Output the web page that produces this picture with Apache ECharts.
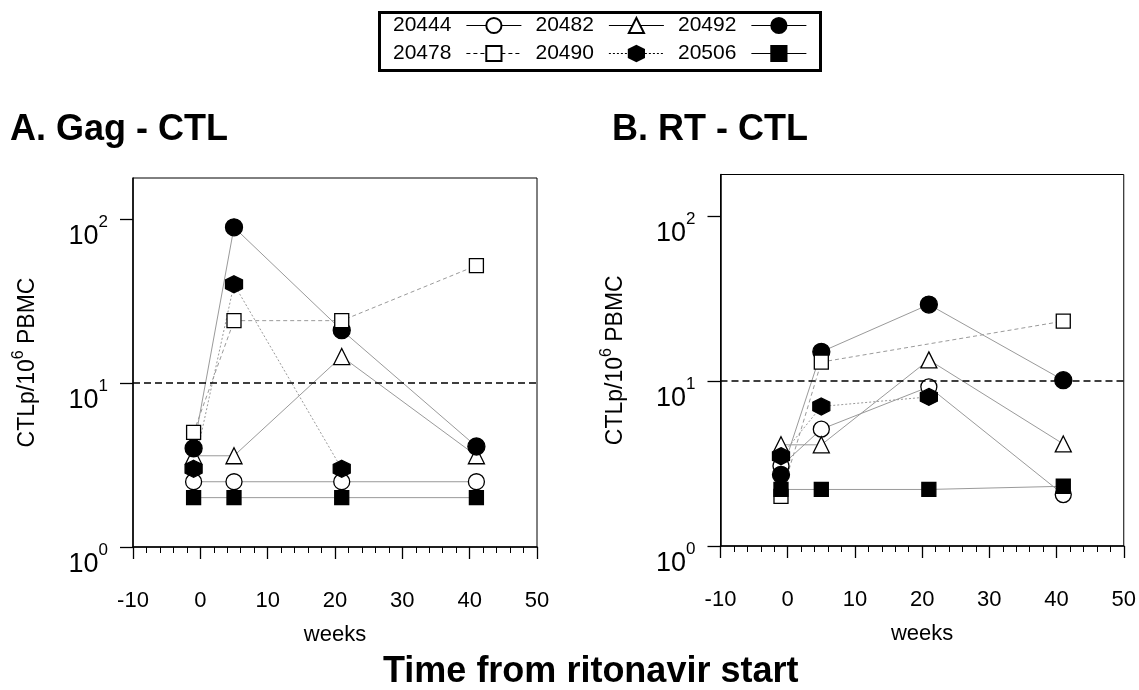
<!DOCTYPE html>
<html>
<head>
<meta charset="utf-8">
<script src="https://cdn.jsdelivr.net/npm/echarts@6/dist/echarts.min.js"></script>
<style>
html,body{margin:0;padding:0;background:#fff;}
#chart{width:1139px;height:690px;}
</style>
</head>
<body>
<div id="chart"></div>
<script>
// ---- data ----
const weeks = [-1, 5, 21, 41];
const seriesNames = ['20444', '20482', '20492', '20478', '20490', '20506'];
const legendRow1 = ['20444', '20482', '20492'];
const legendRow2 = ['20478', '20490', '20506'];
const xTicks = [-10, 0, 10, 20, 30, 40, 50];
const yTickValues = [1, 10, 100];
const thresholdValue = 10;

// A. Gag - CTL
const gag20444 = [2.5, 2.5, 2.5, 2.5];
const gag20482 = [3.6, 3.6, 14.5, 3.6];
const gag20492 = [4.0, 89, 21, 4.1];
const gag20478 = [5.0, 24, 24, 52];
const gag20490 = [3.0, 40, 3.0, null];
const gag20506 = [2.0, 2.0, 2.0, 2.0];

// B. RT - CTL
const rt20444 = [3.05, 5.1, 9.2, 2.05];
const rt20482 = [4.1, 4.1, 13.4, 4.15];
const rt20492 = [2.7, 15, 29, 10.1];
const rt20478 = [2.0, 13, null, 23];
const rt20490 = [3.5, 7.0, 8.0, null];
const rt20506 = [2.2, 2.2, 2.2, 2.3];

const gagSeries = [gag20444, gag20482, gag20492, gag20478, gag20490, gag20506];
const rtSeries = [rt20444, rt20482, rt20492, rt20478, rt20490, rt20506];

// ---- styles ----
const HEX = 'path://M0,-1 L0.866,-0.5 L0.866,0.5 L0,1 L-0.866,0.5 L-0.866,-0.5 Z';
const styleFor = {
  '20444': {symbol: 'circle', size: 16, fill: '#fff', dash: 'solid'},
  '20482': {symbol: 'triangle', size: 16, fill: '#fff', dash: 'solid'},
  '20492': {symbol: 'circle', size: 17, fill: '#000', dash: 'solid'},
  '20478': {symbol: 'rect', size: 14, fill: '#fff', dash: [4, 3]},
  '20490': {symbol: HEX, size: 17, fill: '#000', dash: [2, 2]},
  '20506': {symbol: 'rect', size: 14, fill: '#000', dash: 'solid'}
};
const FONT = '"Liberation Sans", Arial, sans-serif';
const YMAX = Math.pow(10, 2.25);

function makeSeries(name, values, gi) {
  const st = styleFor[name];
  return {
    name: name,
    type: 'line',
    xAxisIndex: gi,
    yAxisIndex: gi,
    data: weeks.map((w, i) => [w, values[i]]),
    connectNulls: true,
    symbol: st.symbol,
    symbolSize: st.size,
    showAllSymbol: true,
    lineStyle: {color: '#9a9a9a', width: 1, type: st.dash},
    itemStyle: {color: st.fill, borderColor: '#000', borderWidth: 1.3},
    emphasis: {disabled: true},
    z: 3
  };
}

function yLabelFmt(v) {
  const e = Math.log10(v);
  const r = Math.round(e);
  if (Math.abs(e - r) < 1e-6) return '{b|10}{s|' + r + '}';
  return '';
}

function xAxisFor(gi) {
  return {
    type: 'value', gridIndex: gi, min: -10, max: 50, interval: 10,
    axisLine: {show: true, onZero: false, lineStyle: {color: '#000', width: 1.5}},
    axisTick: {show: true, inside: false, length: 12, lineStyle: {color: '#000', width: 1.3}},
    minorTick: {show: true, splitNumber: 5, length: 6, lineStyle: {color: '#000', width: 1}},
    splitLine: {show: false},
    axisLabel: {color: '#000', fontSize: 22, fontFamily: FONT, margin: 43},
    name: 'weeks', nameLocation: 'middle', nameGap: 77,
    nameTextStyle: {color: '#000', fontSize: 22, fontFamily: FONT}
  };
}

function yAxisFor(gi) {
  return {
    type: 'log', logBase: 10, gridIndex: gi, min: 1, max: YMAX,
    axisLine: {show: true, onZero: false, lineStyle: {color: '#000', width: 1.5}},
    axisTick: {show: true, inside: false, length: 13, customValues: yTickValues, lineStyle: {color: '#000', width: 1.3}},
    splitLine: {show: false},
    axisLabel: {
      color: '#000', fontFamily: FONT, margin: 25, formatter: yLabelFmt,
      customValues: yTickValues,
      padding: [22, 0, 0, 0],
      rich: {
        b: {fontSize: 27, lineHeight: 40, fontFamily: FONT, color: '#000', verticalAlign: 'bottom'},
        s: {fontSize: 17, lineHeight: 17, fontFamily: FONT, color: '#000', verticalAlign: 'top', padding: [4, 0, 0, 0]}
      }
    },
    name: 'CTLp/10{s|6} PBMC', nameLocation: 'middle', nameGap: 88,
    nameTextStyle: {
      color: '#000', fontSize: 23, fontFamily: FONT, lineHeight: 34,
      rich: {s: {fontSize: 16, lineHeight: 16, fontFamily: FONT, color: '#000', verticalAlign: 'top'}}
    }
  };
}

const series = [];
seriesNames.forEach((n, i) => series.push(makeSeries(n, gagSeries[i], 0)));
seriesNames.forEach((n, i) => series.push(makeSeries(n, rtSeries[i], 1)));

const thresholdLine = (gi) => ({
  type: 'line', xAxisIndex: gi, yAxisIndex: gi, data: [], silent: true,
  markLine: {
    silent: true, symbol: 'none', label: {show: false},
    lineStyle: {color: '#000', type: [7, 4], width: 1.6},
    data: [{yAxis: thresholdValue}]
  }
});
series.push(thresholdLine(0));
series.push(thresholdLine(1));

function legendRow(names, top) {
  return {
    data: names, left: 393, top: top, orient: 'horizontal', align: 'right',
    padding: 0, itemGap: 13.6, itemWidth: 55, itemHeight: 19,
    selectedMode: false,
    textStyle: {color: '#000', fontSize: 21, fontFamily: FONT, padding: [0, 10, 0, 0]},
    lineStyle: {color: '#000', width: 1}
  };
}

const chart = echarts.init(document.getElementById('chart'), null, {renderer: 'canvas'});
chart.setOption({
  backgroundColor: '#fff',
  animation: false,
  title: [
    {text: 'A. Gag - CTL', left: 10, top: 112, padding: 0, textStyle: {fontSize: 36, fontWeight: 'bold', color: '#000', fontFamily: FONT}},
    {text: 'B. RT - CTL', left: 612, top: 112, padding: 0, textStyle: {fontSize: 36, fontWeight: 'bold', color: '#000', fontFamily: FONT}},
    {text: 'Time from ritonavir start', left: 383, top: 654, padding: 0, textStyle: {fontSize: 36, fontWeight: 'bold', color: '#000', fontFamily: FONT}}
  ],
  legend: [legendRow(legendRow1, 15), legendRow(legendRow2, 43)],
  graphic: [{
    type: 'rect', left: 377, top: 10, shape: {width: 441, height: 58},
    style: {fill: 'none', stroke: '#000', lineWidth: 3}, silent: true
  }],
  grid: [
    {left: 133, top: 178, width: 404, height: 369, show: true, borderColor: '#000', borderWidth: 1, backgroundColor: 'transparent'},
    {left: 720.5, top: 174.5, width: 403.5, height: 371.5, show: true, borderColor: '#000', borderWidth: 1, backgroundColor: 'transparent'}
  ],
  xAxis: [xAxisFor(0), xAxisFor(1)],
  yAxis: [yAxisFor(0), yAxisFor(1)],
  series: series
});
</script>
</body>
</html>
